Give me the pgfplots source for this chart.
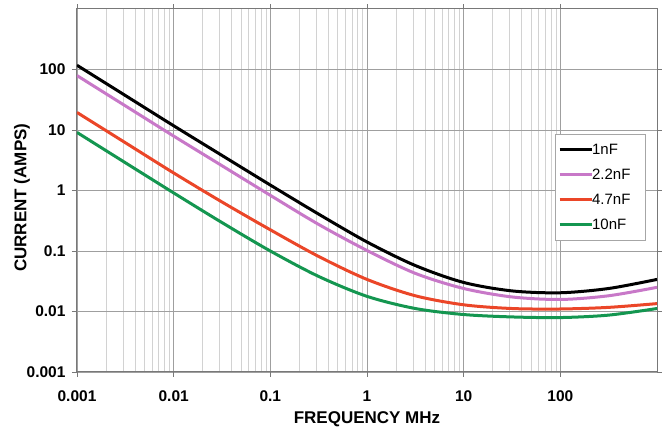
\documentclass[border=0pt]{standalone}
\usepackage{fontspec}
\setmainfont{Liberation Sans}
\usepackage{pgfplots}
\pgfplotsset{compat=1.18}
\definecolor{cpink}{RGB}{200,120,200}
\definecolor{cred}{RGB}{235,70,40}
\definecolor{cgreen}{RGB}{20,150,80}
\definecolor{cframe}{RGB}{120,120,120}
\begin{document}
\begin{tikzpicture}
\useasboundingbox (-77pt,-58pt) rectangle (585pt,372pt);
\begin{axis}[
 at={(0pt,0pt)}, anchor=south west,
 scale only axis, width=580pt, height=363pt,
 xmode=log, ymode=log,
 xmin=0.001, xmax=1000, ymin=0.001, ymax=1000,
 xtick={0.001,0.01,0.1,1,10,100},
 xticklabels={0.001,0.01,0.1,1,10,100},
 ytick={0.001,0.01,0.1,1,10,100},
 yticklabels={0.001,0.01,0.1,1,10,100},
 yminorticks=false,
 xmajorgrids, ymajorgrids, xminorgrids,
 major grid style={draw=gray!75, line width=0.8pt},
 minor grid style={draw=gray!35, line width=0.8pt},
 axis line style={draw=cframe, line width=1pt},
 tick align=outside,
 major tick length=5pt, minor tick length=0pt,
 tick style={draw=cframe, line width=0.8pt},
 ticklabel style={font=\fontsize{15.5}{15.5}\selectfont\bfseries},
 xticklabel style={yshift=-10pt},
 yticklabel style={xshift=-3pt},
 xlabel={FREQUENCY MHz}, ylabel={CURRENT (AMPS)},
 label style={font=\fontsize{17}{17}\selectfont\bfseries},
 xlabel style={at={(axis description cs:0.5,-0.129)}, anchor=center},
 ylabel style={at={(axis description cs:-0.095,0.48)}, anchor=center},
 legend style={at={(axis description cs:0.824,0.656)}, anchor=north west,
   draw=gray!70, fill=white, font=\fontsize{15}{15}\selectfont,
   row sep=9pt, inner xsep=3pt, inner ysep=8pt},
 legend cell align=left,
 legend image code/.code={\draw[#1, line width=3pt] (0pt,0pt) -- (32pt,0pt);},
 every axis plot/.append style={line width=3pt, smooth},
]
\addplot[black] coordinates {
(0.001,117.5) (0.00316,37.2) (0.01,11.75) (0.0316,3.80) (0.1,1.23) (0.316,0.407)
(1,0.141) (3.16,0.0575) (10,0.0302) (31.6,0.0219) (100,0.0204) (316,0.0240) (1000,0.0339)};
\addlegendentry{\hspace*{-3pt}1nF\hspace*{10pt}}
\addplot[cpink] coordinates {
(0.001,79.4) (0.00316,25.1) (0.01,7.94) (0.0316,2.57) (0.1,0.832) (0.316,0.275)
(1,0.102) (3.16,0.0427) (10,0.0240) (31.6,0.0174) (100,0.0158) (316,0.0182) (1000,0.0251)};
\addlegendentry{\hspace*{-3pt}2.2nF\hspace*{10pt}}
\addplot[cred] coordinates {
(0.001,19.5) (0.00316,6.17) (0.01,1.95) (0.0316,0.646) (0.1,0.224) (0.316,0.0813)
(1,0.0339) (3.16,0.0182) (10,0.0129) (31.6,0.0112) (100,0.0110) (316,0.0117) (1000,0.0135)};
\addlegendentry{\hspace*{-3pt}4.7nF\hspace*{10pt}}
\addplot[cgreen] coordinates {
(0.001,9.12) (0.00316,2.88) (0.01,0.912) (0.0316,0.295) (0.1,0.100) (0.316,0.0380)
(1,0.0178) (3.16,0.0112) (10,0.00891) (31.6,0.00813) (100,0.00794) (316,0.00871) (1000,0.0112)};
\addlegendentry{\hspace*{-3pt}10nF\hspace*{10pt}}
\end{axis}
\end{tikzpicture}
\end{document}
